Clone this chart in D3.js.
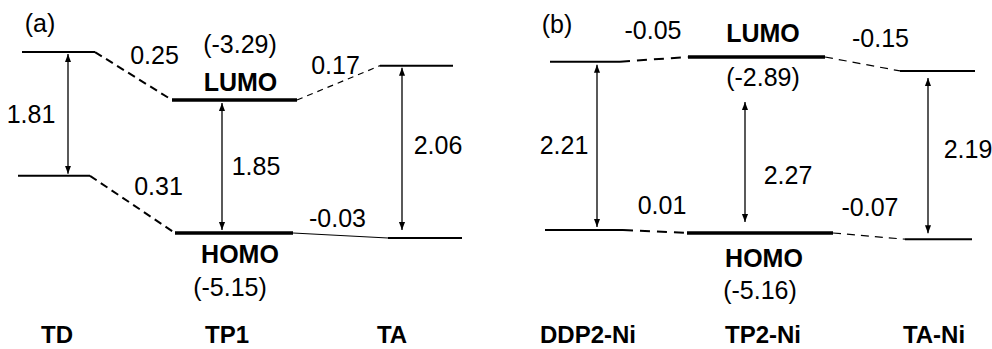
<!DOCTYPE html>
<html>
<head>
<meta charset="utf-8">
<script src="https://cdn.jsdelivr.net/npm/d3@7"></script>
<style>
body { margin: 0; background: #fff; }
text { font-family: "Liberation Sans", Arial, sans-serif; font-size: 25px; fill: #000; }
text.bold { font-weight: bold; }
text.cat { font-size: 24px; }
</style>
</head>
<body>
<div id="chart"></div>
<script>
// ---- data: panel (a) ----
var catsA = ["TD", "TP1", "TA"];
// level heights as drawn (schematic energy axis, eV)
var lumoA = [-2.62, -3.29, -2.81];
var homoA = [-4.35, -5.15, -5.22];
var gapA = ["1.81", "1.85", "2.06"];
var lumoShiftA = ["0.25", "0.17"];
var homoShiftA = ["0.31", "-0.03"];
var lumoValA = "(-3.29)";
var homoValA = "(-5.15)";

// ---- data: panel (b) ----
var catsB = ["DDP2-Ni", "TP2-Ni", "TA-Ni"];
var lumoB = [-2.95, -2.89, -3.07];
var homoB = [-5.12, -5.16, -5.24];
var gapB = ["2.21", "2.27", "2.19"];
var lumoShiftB = ["-0.05", "-0.15"];
var homoShiftB = ["0.01", "-0.07"];
var lumoValB = "(-2.89)";
var homoValB = "(-5.16)";

// ---- layout ----
var width = 992, height = 349;

var panels = [
  {
    tag: "(a)", tagPos: [40, 32],
    cats: catsA, lumo: lumoA, homo: homoA, gaps: gapA,
    dl: lumoShiftA, dh: homoShiftA, lv: lumoValA, hv: homoValA,
    xRange: [56, 421], yRange: [100, 233],
    lumoW: [73, 125, 73], lumoDx: [2.5, -4, -4.5],
    homoW: [72, 118, 74], homoDx: [-2, -4.5, 4],
    arrowDx: [12, -16.5, -19], arrowPad: [[2, 2], [3, 3], [2, 8]],
    gapOff: [[-37, 9], [34, 8.5], [36, 5]],
    lumoConn: [{ w: 2, dash: "8,5" }, { w: 1.2, dash: "6,5" }],
    homoConn: [{ w: 2, dash: "8,5" }, { w: 1.2, dash: null }],
    lumoOff: [[21, -12], [-3, -9]], homoOff: [[26, -9.5], [-3, -8.5]],
    lumoLab: [2, -9], lumoValPos: [1.5, -47], homoLab: [1.5, 30], homoValPos: [-8.5, 63],
    catDx: [1, -11.5, -29]
  },
  {
    tag: "(b)", tagPos: [557, 33],
    cats: catsB, lumo: lumoB, homo: homoB, gaps: gapB,
    dl: lumoShiftB, dh: homoShiftB, lv: lumoValB, hv: homoValB,
    xRange: [585, 937], yRange: [57, 233],
    lumoW: [70, 137, 75], lumoDx: [0, -4.5, 0.5],
    homoW: [78, 146, 67], homoDx: [-1, -1, 1.5],
    arrowDx: [12, -16, -9], arrowPad: [[3, 3], [45, 11], [7, 6]],
    gapOff: [[-33, 8], [43, 22], [40, 2]],
    lumoConn: [{ w: 2, dash: "10,7" }, { w: 1.2, dash: "8,6" }],
    homoConn: [{ w: 2, dash: "10,7" }, { w: 1.2, dash: "8,6" }],
    lumoOff: [[-1, -20], [18, -17]], homoOff: [[7, -17], [1, -20]],
    lumoLab: [2, -15], lumoValPos: [2, 29], homoLab: [3, 34], homoValPos: [-1, 66],
    catDx: [3, 2, -3]
  }
];

var svg = d3.select("#chart").append("svg")
  .attr("width", width)
  .attr("height", height);

var defs = svg.append("defs");
["start", "end"].forEach(function(k) {
  defs.append("marker")
    .attr("id", "head-" + k)
    .attr("viewBox", "0 0 10 10")
    .attr("refX", 10).attr("refY", 5)
    .attr("markerWidth", 8).attr("markerHeight", 8)
    .attr("markerUnits", "userSpaceOnUse")
    .attr("orient", k == "start" ? "auto-start-reverse" : "auto")
    .append("path")
    .attr("d", "M0,1.2 L10,5 L0,8.8 Z")
    .attr("fill", "#000");
});

function label(g, x, y, s, cls) {
  return g.append("text")
    .attr("x", x).attr("y", y)
    .attr("text-anchor", "middle")
    .attr("class", cls || null)
    .text(s);
}

panels.forEach(function(p) {
  var g = svg.append("g");

  var x = d3.scalePoint().domain(p.cats).range(p.xRange);
  // centre column sets the energy scale of the panel
  var y = d3.scaleLinear().domain([p.lumo[1], p.homo[1]]).range(p.yRange);

  var levels = [];
  p.cats.forEach(function(c, i) {
    var cl = x(c) + p.lumoDx[i], ch = x(c) + p.homoDx[i];
    levels.push({ kind: "lumo", i: i, x0: cl - p.lumoW[i] / 2, x1: cl + p.lumoW[i] / 2, y: y(p.lumo[i]) });
    levels.push({ kind: "homo", i: i, x0: ch - p.homoW[i] / 2, x1: ch + p.homoW[i] / 2, y: y(p.homo[i]) });
  });

  g.selectAll("line.level").data(levels).enter().append("line")
    .attr("class", "level")
    .attr("x1", function(d) { return d.x0; })
    .attr("x2", function(d) { return d.x1; })
    .attr("y1", function(d) { return d.y; })
    .attr("y2", function(d) { return d.y; })
    .attr("stroke", "#000")
    .attr("stroke-width", function(d) { return d.i == 1 ? 3.6 : 2; });

  // connectors between neighbouring columns
  function lev(kind, i) {
    return levels.filter(function(d) { return d.kind == kind && d.i == i; })[0];
  }
  var conns = [];
  [0, 1].forEach(function(j) {
    conns.push({ a: lev("lumo", j), b: lev("lumo", j + 1), st: p.lumoConn[j], txt: p.dl[j], off: p.lumoOff[j] });
    conns.push({ a: lev("homo", j), b: lev("homo", j + 1), st: p.homoConn[j], txt: p.dh[j], off: p.homoOff[j] });
  });

  conns.forEach(function(c) {
    g.append("line")
      .attr("x1", c.a.x1).attr("y1", c.a.y)
      .attr("x2", c.b.x0).attr("y2", c.b.y)
      .attr("stroke", "#000")
      .attr("stroke-width", c.st.w)
      .attr("stroke-dasharray", c.st.dash);
    var mx = (c.a.x1 + c.b.x0) / 2, my = (c.a.y + c.b.y) / 2;
    label(g, mx + c.off[0], my + c.off[1], c.txt);
  });

  // gap arrows + category names
  p.cats.forEach(function(c, i) {
    var ax = x(c) + p.arrowDx[i];
    var y0 = y(p.lumo[i]) + p.arrowPad[i][0];
    var y1 = y(p.homo[i]) - p.arrowPad[i][1];
    g.append("line")
      .attr("x1", ax).attr("x2", ax)
      .attr("y1", y0).attr("y2", y1)
      .attr("stroke", "#000")
      .attr("stroke-width", 1.3)
      .attr("marker-start", "url(#head-start)")
      .attr("marker-end", "url(#head-end)");
    label(g, ax + p.gapOff[i][0], (y0 + y1) / 2 + p.gapOff[i][1], p.gaps[i]);
    label(g, x(c) + p.catDx[i], 343, c, "bold cat");
  });

  var mid = x(p.cats[1]);
  var yl = y(p.lumo[1]), yh = y(p.homo[1]);
  label(g, mid + p.lumoLab[0], yl + p.lumoLab[1], "LUMO", "bold");
  label(g, mid + p.lumoValPos[0], yl + p.lumoValPos[1], p.lv);
  label(g, mid + p.homoLab[0], yh + p.homoLab[1], "HOMO", "bold");
  label(g, mid + p.homoValPos[0], yh + p.homoValPos[1], p.hv);

  label(g, p.tagPos[0], p.tagPos[1], p.tag);
});
</script>
</body>
</html>
